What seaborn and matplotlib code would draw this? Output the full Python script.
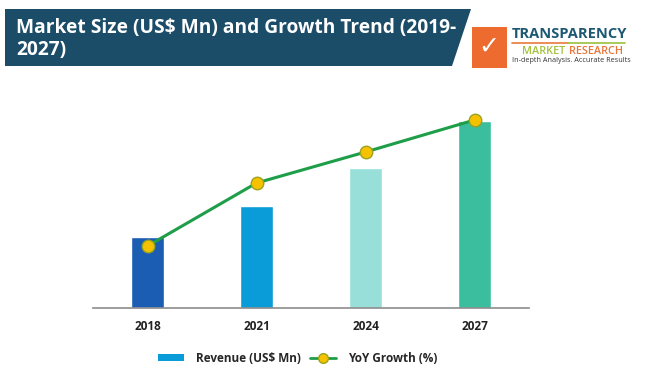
import matplotlib
matplotlib.use("Agg")
import matplotlib.pyplot as plt
import seaborn as sns
import pandas as pd
from matplotlib.patches import Polygon, Rectangle
from matplotlib.lines import Line2D

# --- Dados (unidades relativas, sem eixo Y visível) ---
anos = ["2018", "2021", "2024", "2027"]
receita = [71, 102, 140, 187]
crescimento = [62, 125, 156, 188]
cores_barras = ["#1C5DB4", "#0A9CD9", "#97DFD8", "#3BBE9E"]

titulo = "Market Size (US$ Mn) and Growth Trend (2019-\n2027)"
legenda_barra = "Revenue (US$ Mn)"
legenda_linha = "YoY Growth (%)"

sns.set_style("white")
plt.rcParams["font.family"] = ["Open Sans", "DejaVu Sans"]

fig = plt.figure(figsize=(6.5, 3.88), dpi=100)
W, H = 650, 388

def fx(px):
    return px / W

def fy(py):
    return 1 - py / H

ax = fig.add_axes([fx(93), fy(308), fx(529) - fx(93), (308 - 110) / H])

df = pd.DataFrame({"ano": anos, "receita": receita})
sns.barplot(data=df, x="ano", y="receita", hue="ano", palette=cores_barras,
            width=0.31, legend=False, ax=ax, saturation=1)
ax.set_ylim(0, 198)
ax.set_xlim(-0.5, 3.5)

ax2 = ax.twinx()
sns.lineplot(x=list(range(len(anos))), y=crescimento, ax=ax2, color="#1E9E48",
             linewidth=2.2, marker="o", markersize=9,
             markerfacecolor="#F6C200", markeredgecolor="#9AA41E",
             markeredgewidth=1.0)
ax2.set_ylim(0, 198)
ax2.set_xlim(-0.5, 3.5)

for a in (ax, ax2):
    for s in ["top", "right", "left"]:
        a.spines[s].set_visible(False)
    a.set_yticks([])
    a.set_ylabel("")
    a.set_xlabel("")
ax2.spines["bottom"].set_visible(False)
ax.spines["bottom"].set_color("#8C8C8C")
ax.spines["bottom"].set_linewidth(1.2)
ax.tick_params(axis="x", length=0, pad=9, labelsize=8.5, colors="#222222")
for t in ax.get_xticklabels():
    t.set_fontweight("bold")

# --- Faixa do título ---
faixa = Polygon([[fx(5), fy(9)], [fx(471), fy(9)], [fx(452), fy(66)], [fx(5), fy(66)]],
                closed=True, transform=fig.transFigure, facecolor="#1B4C68",
                edgecolor="none")
fig.patches.append(faixa)
fig.text(fx(16), fy(39), titulo, color="white", fontsize=13.8, fontweight="bold",
         va="center", ha="left", linespacing=1.2)

# --- Logotipo ---
fig.patches.append(Rectangle((fx(472), fy(68)), fx(35), (68 - 27) / H,
                             transform=fig.transFigure, facecolor="#EE6B2F",
                             edgecolor="none"))
fig.text(fx(489), fy(47), "✓", color="white", fontsize=18, fontweight="bold",
         ha="center", va="center", family=["DejaVu Sans"])
fig.text(fx(512), fy(34), "TRANSPARENCY", color="#1D5873", fontsize=10.5,
         fontweight="bold", ha="left", va="center")
fig.add_artist(Line2D([fx(512), fx(568)], [fy(43), fy(43)], color="#E9793A",
                      linewidth=1.2, transform=fig.transFigure))
fig.add_artist(Line2D([fx(568), fx(625)], [fy(43), fy(43)], color="#9CBF3B",
                      linewidth=1.2, transform=fig.transFigure))
fig.text(fx(522), fy(51), "MARKET", color="#A4C23E", fontsize=7.8,
         fontweight="semibold", ha="left", va="center")
fig.text(fx(569), fy(51), "RESEARCH", color="#E8763A", fontsize=7.8,
         fontweight="semibold", ha="left", va="center")
fig.text(fx(512), fy(61), "In-depth Analysis. Accurate Results", color="#333333",
         fontsize=5.2, ha="left", va="center")

# --- Legenda ---
handles = [
    Rectangle((0, 0), 1, 1, facecolor="#0A9CD9", edgecolor="none"),
    Line2D([0], [0], color="#1E9E48", linewidth=2, marker="o", markersize=7,
           markerfacecolor="#F6C200", markeredgecolor="#9AA41E"),
]
fig.legend(handles, [legenda_barra, legenda_linha], loc="center",
           bbox_to_anchor=(fx(298), fy(358)), ncol=2, frameon=False,
           handlelength=2.2, handleheight=0.6, columnspacing=0.8,
           handletextpad=1.0, prop={"weight": "bold", "size": 8.5})

fig.savefig("out.png", dpi=100)
